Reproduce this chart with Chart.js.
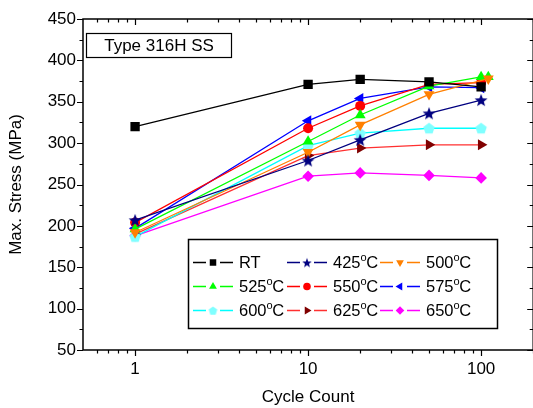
<!DOCTYPE html>
<html>
<head>
<meta charset="utf-8">
<script src="https://cdn.jsdelivr.net/npm/chart.js@4.4.1/dist/chart.umd.min.js"></script>
<style>
  html, body { margin: 0; padding: 0; background: #fff; overflow: hidden; }
</style>
</head>
<body>
<canvas id="myChart" width="540" height="408"></canvas>
<script>
// dati
var cycles = [1, 10, 20, 50, 100];
var cycles500 = [1, 10, 20, 50, 110];
var cycles525 = [1, 10, 20, 50, 100, 110];

var stressRT = [320, 371, 377, 374, 368];
var stress425 = [207, 279, 304, 336, 352];
var stress500 = [192, 289, 322, 359, 378];
var stress525 = [196, 302, 334, 369, 380, 380];
var stress550 = [204, 318, 345, 371, 373];
var stress575 = [197, 327, 354, 368, 367];
var stress600 = [187, 297, 312, 318, 318];
var stress625 = [190, 285, 294, 298, 298];
var stress650 = [188, 260, 264, 261, 258];

var seriesNames = ['RT', '425', '500', '525', '550', '575', '600', '625', '650'];

var yTicks = [50, 100, 150, 200, 250, 300, 350, 400, 450];
var yMinorTicks = [75, 125, 175, 225, 275, 325, 375, 425];
var xTickLabels = [1, 10, 100];
var xMinorTicks = [0.6, 0.7, 0.8, 0.9, 2, 3, 4, 5, 6, 7, 8, 9, 20, 30, 40, 50, 60, 70, 80, 90, 200];

var FONT = '"Liberation Sans", Arial, sans-serif';

// marker personalizzati
function makeStar(r, color) {
  var s = Math.ceil(r * 2) + 2;
  var c = document.createElement('canvas');
  c.width = s; c.height = s;
  var g = c.getContext('2d');
  g.fillStyle = color;
  g.beginPath();
  for (var i = 0; i < 10; i++) {
    var rr = (i % 2 === 0) ? r : r * 0.42;
    var a = -Math.PI / 2 + i * Math.PI / 5;
    g.lineTo(s / 2 + rr * Math.cos(a), s / 2 + 0.6 + rr * Math.sin(a));
  }
  g.closePath();
  g.fill();
  return c;
}

function makePentagon(r, color) {
  var s = Math.ceil(r * 2) + 2;
  var c = document.createElement('canvas');
  c.width = s; c.height = s;
  var g = c.getContext('2d');
  g.fillStyle = color;
  g.beginPath();
  for (var i = 0; i < 5; i++) {
    var a = -Math.PI / 2 + i * 2 * Math.PI / 5;
    g.lineTo(s / 2 + r * Math.cos(a), s / 2 + 0.5 + r * Math.sin(a));
  }
  g.closePath();
  g.fill();
  return c;
}

var starBig = makeStar(6.8, '#000080');
var starSmall = makeStar(5, '#000080');
var pentBig = makePentagon(6, '#80ffff');
var pentSmall = makePentagon(4.5, '#80ffff');

function pts(xs, ys) {
  return ys.map(function (v, i) { return { x: xs[i], y: v }; });
}

function serie(label, xs, ys, line, fill, style, radius, rot, legendStyle, legendRadius) {
  return {
    label: label,
    data: pts(xs, ys),
    borderColor: line,
    backgroundColor: fill,
    borderWidth: 1.3,
    pointStyle: style,
    pointRadius: radius,
    pointHoverRadius: radius,
    pointRotation: rot,
    pointBackgroundColor: fill,
    pointBorderColor: fill,
    pointBorderWidth: 0,
    legendStyle: legendStyle,
    legendRadius: legendRadius
  };
}

var datasets = [
  serie(seriesNames[0], cycles, stressRT, '#000000', '#000000', 'rect', 6.6, 0, 'rect', 4.6),
  serie(seriesNames[1], cycles, stress425, '#000080', '#000080', starBig, 6.8, 0, starSmall, 5),
  serie(seriesNames[2], cycles500, stress500, '#ff8000', '#ff8000', 'triangle', 6.3, 180, 'triangle', 4.5),
  serie(seriesNames[3], cycles525, stress525, '#00ff00', '#00ff00', 'triangle', 6.3, 0, 'triangle', 4.5),
  serie(seriesNames[4], cycles, stress550, '#ff0000', '#ff0000', 'circle', 5, 0, 'circle', 3.8),
  serie(seriesNames[5], cycles, stress575, '#0000ff', '#0000ff', 'triangle', 6.3, -90, 'triangle', 4.5),
  serie(seriesNames[6], cycles, stress600, '#00ffff', '#80ffff', pentBig, 6, 0, pentSmall, 4.5),
  serie(seriesNames[7], cycles, stress625, '#ff3030', '#800000', 'triangle', 6.3, 90, 'triangle', 4.5),
  serie(seriesNames[8], cycles, stress650, '#ff00ff', '#ff00ff', 'rectRot', 5.8, 0, 'rectRot', 4.3)
];

// cornice, tacche, box di testo e legenda
var decorPlugin = {
  id: 'decor',
  afterDraw: function (chart) {
    var ctx = chart.ctx;
    var a = chart.chartArea;
    var xs = chart.scales.x;
    var ys = chart.scales.y;
    ctx.save();
    ctx.strokeStyle = '#000';
    ctx.lineWidth = 1.5;
    ctx.strokeRect(a.left, a.top, a.right - a.left, a.bottom - a.top);

    ctx.lineWidth = 1.2;
    ctx.beginPath();
    function yTick(v, len) {
      var p = Math.round(ys.getPixelForValue(v)) + 0.5;
      ctx.moveTo(a.left - len, p); ctx.lineTo(a.left, p);
      ctx.moveTo(a.right, p); ctx.lineTo(a.right - len, p);
    }
    function xTick(v, len) {
      var p = Math.round(xs.getPixelForValue(v)) + 0.5;
      ctx.moveTo(p, a.bottom); ctx.lineTo(p, a.bottom + len);
      ctx.moveTo(p, a.top); ctx.lineTo(p, a.top + len);
    }
    yTicks.forEach(function (v) { yTick(v, 6); });
    yMinorTicks.forEach(function (v) { yTick(v, 3.5); });
    xTickLabels.forEach(function (v) { xTick(v, 6); });
    xMinorTicks.forEach(function (v) { xTick(v, 3.5); });
    ctx.stroke();

    // box "Type 316H SS"
    ctx.lineWidth = 1.2;
    ctx.strokeRect(86.5, 33.5, 145, 24);
    ctx.fillStyle = '#000';
    ctx.font = '17px ' + FONT;
    ctx.textAlign = 'center';
    ctx.textBaseline = 'middle';
    ctx.fillText('Type 316H SS', 159, 46);

    // legenda
    ctx.lineWidth = 1.5;
    ctx.strokeRect(188.5, 239.5, 309, 89);
    var colX = [193, 287, 380];
    var rowY = [262, 286, 310];
    chart.data.datasets.forEach(function (ds, i) {
      var x0 = colX[i % 3];
      var y = rowY[Math.floor(i / 3)];
      ctx.strokeStyle = ds.borderColor;
      ctx.lineWidth = 1.3;
      ctx.beginPath();
      ctx.moveTo(x0, y + 0.5); ctx.lineTo(x0 + 13, y + 0.5);
      ctx.moveTo(x0 + 27, y + 0.5); ctx.lineTo(x0 + 40, y + 0.5);
      ctx.stroke();
      ctx.fillStyle = ds.pointBackgroundColor;
      ctx.strokeStyle = ds.pointBackgroundColor;
      Chart.helpers.drawPoint(ctx, {
        pointStyle: ds.legendStyle,
        radius: ds.legendRadius,
        rotation: ds.pointRotation,
        borderWidth: 0
      }, x0 + 20, y + 0.5);

      ctx.fillStyle = '#000';
      ctx.textAlign = 'left';
      ctx.textBaseline = 'middle';
      var tx = x0 + 46;
      ctx.font = '16.5px ' + FONT;
      ctx.fillText(ds.label, tx, y + 1);
      if (ds.label !== 'RT') {
        tx += ctx.measureText(ds.label).width;
        ctx.font = '11px ' + FONT;
        ctx.fillText('o', tx, y - 4);
        tx += ctx.measureText('o').width - 0.5;
        ctx.font = '16.5px ' + FONT;
        ctx.fillText('C', tx, y + 1);
      }
    });
    ctx.restore();
  }
};

var ctx = document.getElementById('myChart').getContext('2d');
var chart = new Chart(ctx, {
  type: 'line',
  data: { datasets: datasets },
  options: {
    responsive: false,
    animation: false,
    devicePixelRatio: 1,
    layout: { padding: { left: 0, right: 6, top: 19, bottom: 0 } },
    plugins: {
      legend: { display: false },
      tooltip: { enabled: false }
    },
    scales: {
      x: {
        type: 'logarithmic',
        min: 0.5,
        max: 200,
        grid: { display: false, drawTicks: false },
        border: { display: false },
        afterBuildTicks: function (scale) {
          scale.ticks = xTickLabels.map(function (v) { return { value: v, major: true }; });
        },
        afterFit: function (scale) { scale.height = 58; },
        ticks: {
          autoSkip: false,
          maxRotation: 0,
          padding: 9,
          color: '#000',
          font: { family: FONT, size: 17 },
          callback: function (v) { return String(v); }
        },
        title: {
          display: true,
          text: 'Cycle Count',
          color: '#000',
          font: { family: FONT, size: 17 },
          padding: { top: 0, bottom: 0 }
        }
      },
      y: {
        min: 50,
        max: 450,
        grid: { display: false, drawTicks: false },
        border: { display: false },
        afterBuildTicks: function (scale) {
          scale.ticks = yTicks.map(function (v) { return { value: v }; });
        },
        afterFit: function (scale) { scale.width = 83; },
        ticks: {
          padding: 7,
          color: '#000',
          font: { family: FONT, size: 17 }
        },
        title: {
          display: true,
          text: 'Max. Stress (MPa)',
          color: '#000',
          font: { family: FONT, size: 17 },
          padding: { top: 6, bottom: 0 }
        }
      }
    }
  },
  plugins: [decorPlugin]
});
</script>
</body>
</html>
